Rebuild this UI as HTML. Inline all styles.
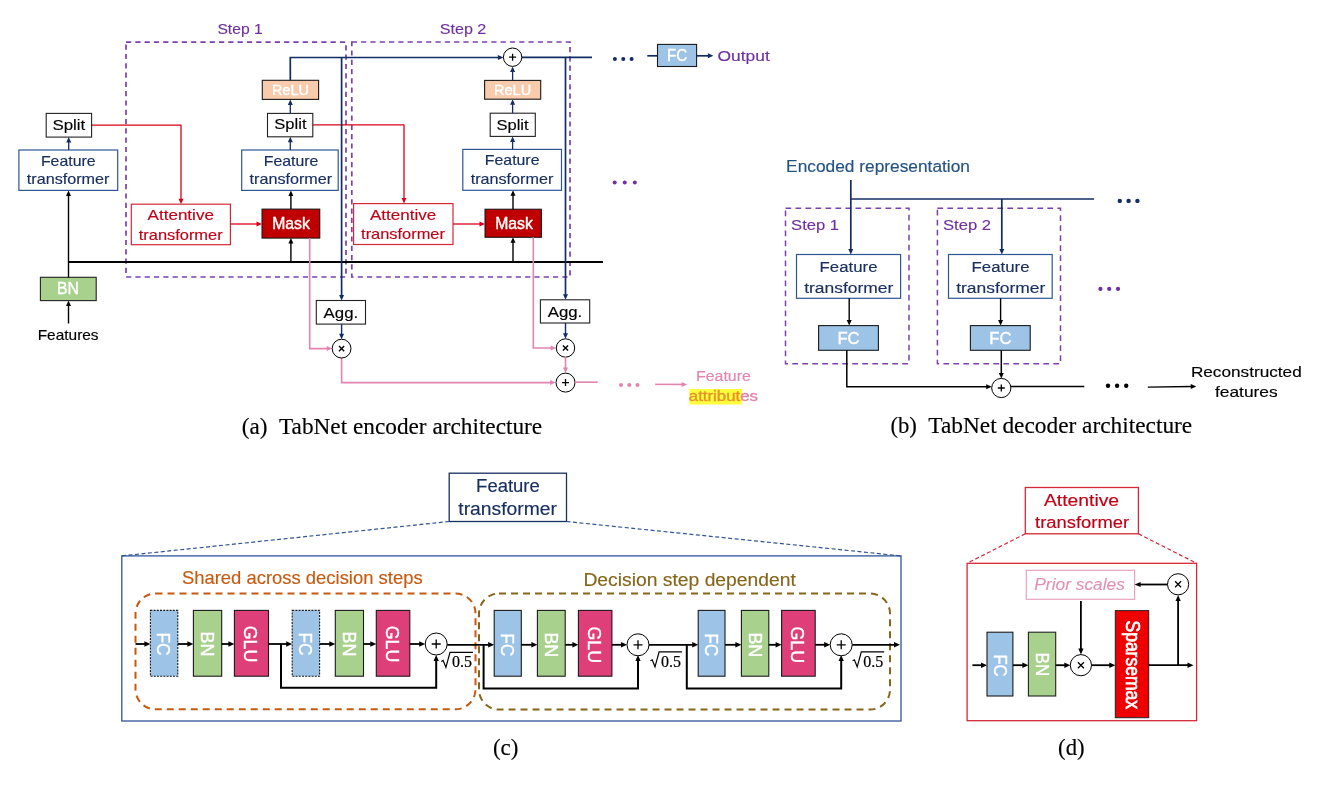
<!DOCTYPE html>
<html><head><meta charset="utf-8"><style>
html,body{margin:0;padding:0;background:#fff;}
svg{display:block;will-change:transform;}
</style></head><body>
<svg width="1334" height="785" viewBox="0 0 1334 785">
<rect width="1334" height="785" fill="#fff"/>
<rect x="126" y="42.1" width="220" height="234.9" fill="none" stroke="#7B40AE" stroke-width="1.7" stroke-dasharray="5.2,4.1"/>
<rect x="351.8" y="42" width="218.2" height="235" fill="none" stroke="#7B40AE" stroke-width="1.7" stroke-dasharray="5.2,4.1"/>
<text x="240.05" y="34.1" font-family='"Liberation Sans", sans-serif' font-size="15.5" fill="#7030A0" text-anchor="middle" textLength="45.3" lengthAdjust="spacingAndGlyphs" stroke="#7030A0" stroke-width="0.15" >Step 1</text>
<text x="463" y="34" font-family='"Liberation Sans", sans-serif' font-size="15.5" fill="#7030A0" text-anchor="middle" textLength="46.6" lengthAdjust="spacingAndGlyphs" stroke="#7030A0" stroke-width="0.15" >Step 2</text>
<polyline points="68.5,262 603,262" fill="none" stroke="#000000" stroke-width="1.8"/>
<text x="68.15" y="340.3" font-family='"Liberation Sans", sans-serif' font-size="14.5" fill="#000" text-anchor="middle" textLength="60.9" lengthAdjust="spacingAndGlyphs" stroke="#000" stroke-width="0.15" >Features</text>
<polyline points="68.5,323.5 68.5,305.1" fill="none" stroke="#000000" stroke-width="1.4"/>
<polygon points="68.5,300.6 71,306.1 66,306.1" fill="#000000"/>
<rect x="40.4" y="277.3" width="55.8" height="23.3" fill="#A9D18E" stroke="#222" stroke-width="1.1"/>
<text x="68.05" y="294" font-family='"Liberation Sans", sans-serif' font-size="17" fill="#fff" text-anchor="middle" textLength="21.9" lengthAdjust="spacingAndGlyphs" stroke="#fff" stroke-width="0.4" >BN</text>
<polyline points="68.5,277.3 68.5,194.9" fill="none" stroke="#000000" stroke-width="1.4"/>
<polygon points="68.5,190.4 71,195.9 66,195.9" fill="#000000"/>
<rect x="18.9" y="150" width="98.8" height="40.4" fill="#fff" stroke="#2F5597" stroke-width="1.2"/>
<text x="68.25" y="165.5" font-family='"Liberation Sans", sans-serif' font-size="14.5" fill="#182F60" text-anchor="middle" textLength="54.7" lengthAdjust="spacingAndGlyphs" stroke="#182F60" stroke-width="0.15" >Feature</text>
<text x="68.1" y="184.4" font-family='"Liberation Sans", sans-serif' font-size="14.5" fill="#182F60" text-anchor="middle" textLength="82.6" lengthAdjust="spacingAndGlyphs" stroke="#182F60" stroke-width="0.15" >transformer</text>
<polyline points="68.7,150 68.7,141.6" fill="none" stroke="#132C64" stroke-width="1.3"/>
<polygon points="68.7,137.1 71.2,142.6 66.2,142.6" fill="#132C64"/>
<rect x="46.2" y="113.4" width="45.4" height="23.7" fill="#fff" stroke="#222" stroke-width="1.1"/>
<text x="68.85" y="129.9" font-family='"Liberation Sans", sans-serif' font-size="15.5" fill="#000" text-anchor="middle" textLength="32.9" lengthAdjust="spacingAndGlyphs" stroke="#000" stroke-width="0.15" >Split</text>
<polyline points="91.6,125.2 181,125.2 181,199.7" fill="none" stroke="#D8001A" stroke-width="1.3"/>
<polygon points="181,204.2 178.5,198.7 183.5,198.7" fill="#D8001A"/>
<rect x="131.3" y="204.2" width="99.1" height="40.5" fill="#fff" stroke="#D42838" stroke-width="1.2"/>
<text x="180.75" y="219.7" font-family='"Liberation Sans", sans-serif' font-size="15" fill="#C00016" text-anchor="middle" textLength="66.3" lengthAdjust="spacingAndGlyphs" stroke="#C00016" stroke-width="0.15" >Attentive</text>
<text x="180.7" y="239.5" font-family='"Liberation Sans", sans-serif' font-size="15" fill="#C00016" text-anchor="middle" textLength="83.8" lengthAdjust="spacingAndGlyphs" stroke="#C00016" stroke-width="0.15" >transformer</text>
<polyline points="230.4,224 257.5,224" fill="none" stroke="#D8001A" stroke-width="1.3"/>
<polygon points="262,224 256.5,226.5 256.5,221.5" fill="#D8001A"/>
<rect x="262" y="209.1" width="57.8" height="29" fill="#C00000" stroke="#111" stroke-width="1"/>
<text x="291.05" y="229.1" font-family='"Liberation Sans", sans-serif' font-size="17" fill="#fff" text-anchor="middle" textLength="37.7" lengthAdjust="spacingAndGlyphs" stroke="#fff" stroke-width="0.4" >Mask</text>
<polyline points="290.9,262 290.9,242.6" fill="none" stroke="#000000" stroke-width="1.4"/>
<polygon points="290.9,238.1 293.4,243.6 288.4,243.6" fill="#000000"/>
<polyline points="290.9,209.1 290.9,194.9" fill="none" stroke="#000000" stroke-width="1.4"/>
<polygon points="290.9,190.4 293.4,195.9 288.4,195.9" fill="#000000"/>
<rect x="241.7" y="150" width="96.5" height="40.4" fill="#fff" stroke="#2F5597" stroke-width="1.2"/>
<text x="291.05" y="165.5" font-family='"Liberation Sans", sans-serif' font-size="14.5" fill="#182F60" text-anchor="middle" textLength="54.7" lengthAdjust="spacingAndGlyphs" stroke="#182F60" stroke-width="0.15" >Feature</text>
<text x="290.9" y="184.4" font-family='"Liberation Sans", sans-serif' font-size="14.5" fill="#182F60" text-anchor="middle" textLength="82.6" lengthAdjust="spacingAndGlyphs" stroke="#182F60" stroke-width="0.15" >transformer</text>
<polyline points="290.3,150 290.3,141.3" fill="none" stroke="#132C64" stroke-width="1.3"/>
<polygon points="290.3,136.8 292.8,142.3 287.8,142.3" fill="#132C64"/>
<rect x="267.5" y="113.4" width="45.3" height="23.4" fill="#fff" stroke="#222" stroke-width="1.1"/>
<text x="290.4" y="129.3" font-family='"Liberation Sans", sans-serif' font-size="15.5" fill="#000" text-anchor="middle" textLength="32.2" lengthAdjust="spacingAndGlyphs" stroke="#000" stroke-width="0.15" >Split</text>
<polyline points="290.3,113.4 290.3,103.9" fill="none" stroke="#132C64" stroke-width="1.3"/>
<polygon points="290.3,99.4 292.8,104.9 287.8,104.9" fill="#132C64"/>
<rect x="262.3" y="80.3" width="56.3" height="19.1" fill="#F8CBAD" stroke="#1a1a1a" stroke-width="1.1"/>
<text x="290.4" y="94.6" font-family='"Liberation Sans", sans-serif' font-size="15.5" fill="#fff" text-anchor="middle" textLength="37" lengthAdjust="spacingAndGlyphs" stroke="#fff" stroke-width="0.4" >ReLU</text>
<polyline points="290.3,80.3 290.3,57.5 498.9,57.5" fill="none" stroke="#132C64" stroke-width="1.7"/>
<polygon points="503.4,57.5 497.9,60 497.9,55" fill="#132C64"/>
<polyline points="312.8,124.8 404,124.8" fill="none" stroke="#D8001A" stroke-width="1.3"/>
<polyline points="404,124.8 404,199.1" fill="none" stroke="#D8001A" stroke-width="1.3"/>
<polygon points="404,203.6 401.5,198.1 406.5,198.1" fill="#D8001A"/>
<polyline points="341.6,57.5 341.6,296" fill="none" stroke="#132C64" stroke-width="1.7"/>
<polygon points="341.6,300.5 339.1,295 344.1,295" fill="#132C64"/>
<rect x="316.3" y="300.5" width="49.2" height="23.6" fill="#fff" stroke="#222" stroke-width="1.1"/>
<text x="340.9" y="317.7" font-family='"Liberation Sans", sans-serif' font-size="15" fill="#000" text-anchor="middle" textLength="34.6" lengthAdjust="spacingAndGlyphs" stroke="#000" stroke-width="0.15" >Agg.</text>
<polyline points="341.6,324.1 341.6,334.7" fill="none" stroke="#132C64" stroke-width="1.4"/>
<polygon points="341.6,339.2 339.1,333.7 344.1,333.7" fill="#132C64"/>
<polyline points="309.7,238.1 309.7,348.6 327.7,348.6" fill="none" stroke="#E384B0" stroke-width="1.6"/>
<polygon points="332.2,348.6 326.7,351.1 326.7,346.1" fill="#E384B0"/>
<polyline points="341.6,358 341.6,382.6 551.1,382.6" fill="none" stroke="#E384B0" stroke-width="1.6"/>
<polygon points="555.6,382.6 550.1,385.1 550.1,380.1" fill="#E384B0"/>
<circle cx="341.6" cy="348.6" r="9.4" fill="#fff" stroke="#000" stroke-width="1"/>
<path d="M339 346L344.2 351.2M344.2 346L339 351.2" stroke="#000" stroke-width="1.4"/>
<rect x="353.6" y="203.6" width="99.4" height="40.9" fill="#fff" stroke="#D42838" stroke-width="1.2"/>
<text x="403.05" y="219.5" font-family='"Liberation Sans", sans-serif' font-size="15" fill="#C00016" text-anchor="middle" textLength="66.3" lengthAdjust="spacingAndGlyphs" stroke="#C00016" stroke-width="0.15" >Attentive</text>
<text x="403" y="239.3" font-family='"Liberation Sans", sans-serif' font-size="15" fill="#C00016" text-anchor="middle" textLength="83.8" lengthAdjust="spacingAndGlyphs" stroke="#C00016" stroke-width="0.15" >transformer</text>
<polyline points="453,224 480.5,224" fill="none" stroke="#D8001A" stroke-width="1.3"/>
<polygon points="485,224 479.5,226.5 479.5,221.5" fill="#D8001A"/>
<rect x="485" y="209.2" width="56.4" height="28.1" fill="#C00000" stroke="#111" stroke-width="1"/>
<text x="514.05" y="228.8" font-family='"Liberation Sans", sans-serif' font-size="17" fill="#fff" text-anchor="middle" textLength="37.7" lengthAdjust="spacingAndGlyphs" stroke="#fff" stroke-width="0.4" >Mask</text>
<polyline points="513,262 513,241.8" fill="none" stroke="#000000" stroke-width="1.4"/>
<polygon points="513,237.3 515.5,242.8 510.5,242.8" fill="#000000"/>
<polyline points="513,209.2 513,194.8" fill="none" stroke="#000000" stroke-width="1.4"/>
<polygon points="513,190.3 515.5,195.8 510.5,195.8" fill="#000000"/>
<rect x="462.8" y="149.4" width="98.7" height="40.9" fill="#fff" stroke="#2F5597" stroke-width="1.2"/>
<text x="512.15" y="165.2" font-family='"Liberation Sans", sans-serif' font-size="14.5" fill="#182F60" text-anchor="middle" textLength="54.7" lengthAdjust="spacingAndGlyphs" stroke="#182F60" stroke-width="0.15" >Feature</text>
<text x="512" y="184.1" font-family='"Liberation Sans", sans-serif' font-size="14.5" fill="#182F60" text-anchor="middle" textLength="82.6" lengthAdjust="spacingAndGlyphs" stroke="#182F60" stroke-width="0.15" >transformer</text>
<polyline points="512.6,149.4 512.6,140.9" fill="none" stroke="#132C64" stroke-width="1.3"/>
<polygon points="512.6,136.4 515.1,141.9 510.1,141.9" fill="#132C64"/>
<rect x="490.2" y="113.2" width="45.1" height="23.2" fill="#fff" stroke="#222" stroke-width="1.1"/>
<text x="512.55" y="129.8" font-family='"Liberation Sans", sans-serif' font-size="15.5" fill="#000" text-anchor="middle" textLength="32.1" lengthAdjust="spacingAndGlyphs" stroke="#000" stroke-width="0.15" >Split</text>
<polyline points="512.6,113.2 512.6,103.7" fill="none" stroke="#132C64" stroke-width="1.3"/>
<polygon points="512.6,99.2 515.1,104.7 510.1,104.7" fill="#132C64"/>
<rect x="484.6" y="80.4" width="56.1" height="18.8" fill="#F8CBAD" stroke="#1a1a1a" stroke-width="1.1"/>
<text x="512.6" y="94.5" font-family='"Liberation Sans", sans-serif' font-size="15.5" fill="#fff" text-anchor="middle" textLength="37.2" lengthAdjust="spacingAndGlyphs" stroke="#fff" stroke-width="0.4" >ReLU</text>
<polyline points="512.6,80.4 512.6,70.9" fill="none" stroke="#132C64" stroke-width="1.3"/>
<polygon points="512.6,66.4 515.1,71.9 510.1,71.9" fill="#132C64"/>
<polyline points="521.8,57.4 592,57.4" fill="none" stroke="#132C64" stroke-width="1.7"/>
<polyline points="565.5,57.4 565.5,295.3" fill="none" stroke="#132C64" stroke-width="1.7"/>
<polygon points="565.5,299.8 563,294.3 568,294.3" fill="#132C64"/>
<circle cx="512.6" cy="57.2" r="9.2" fill="#fff" stroke="#000" stroke-width="1"/>
<path d="M509.1 57.2H516.1M512.6 53.7V60.7" stroke="#000" stroke-width="1.3"/>
<rect x="540.4" y="299.8" width="49.3" height="23.2" fill="#fff" stroke="#222" stroke-width="1.1"/>
<text x="565" y="317" font-family='"Liberation Sans", sans-serif' font-size="15" fill="#000" text-anchor="middle" textLength="34.6" lengthAdjust="spacingAndGlyphs" stroke="#000" stroke-width="0.15" >Agg.</text>
<polyline points="565.5,323 565.5,334.3" fill="none" stroke="#132C64" stroke-width="1.4"/>
<polygon points="565.5,338.8 563,333.3 568,333.3" fill="#132C64"/>
<polyline points="533.3,237.3 533.3,348 551.7,348" fill="none" stroke="#E384B0" stroke-width="1.6"/>
<polygon points="556.2,348 550.7,350.5 550.7,345.5" fill="#E384B0"/>
<circle cx="565.5" cy="348" r="9.2" fill="#fff" stroke="#000" stroke-width="1"/>
<path d="M562.9 345.4L568.1 350.6M568.1 345.4L562.9 350.6" stroke="#000" stroke-width="1.4"/>
<polyline points="565.5,357.2 565.5,368.5" fill="none" stroke="#E384B0" stroke-width="1.6"/>
<polygon points="565.5,373 563,367.5 568,367.5" fill="#E384B0"/>
<circle cx="565.5" cy="382.6" r="9.5" fill="#fff" stroke="#000" stroke-width="1"/>
<path d="M562 382.6H569M565.5 379.1V386.1" stroke="#000" stroke-width="1.3"/>
<polyline points="575,382.2 597.7,382.2" fill="none" stroke="#E384B0" stroke-width="1.6"/>
<circle cx="621" cy="385" r="2" fill="#E384B0"/>
<circle cx="629.25" cy="385" r="2" fill="#E384B0"/>
<circle cx="637.5" cy="385" r="2" fill="#E384B0"/>
<polyline points="655.2,384.4 682.7,384.4" fill="none" stroke="#E384B0" stroke-width="1.6"/>
<polygon points="687.2,384.4 681.7,386.9 681.7,381.9" fill="#E384B0"/>
<rect x="689.2" y="389" width="52.9" height="15.5" fill="#FFFF3C" stroke="none" stroke-width="0"/>
<text x="723.4" y="380.9" font-family='"Liberation Sans", sans-serif' font-size="15.5" fill="#E384B0" text-anchor="middle" textLength="54.8" lengthAdjust="spacingAndGlyphs" stroke="#E384B0" stroke-width="0.15" >Feature</text>
<text x="723.35" y="400.5" font-family='"Liberation Sans", sans-serif' font-size="15.5" text-anchor="middle" textLength="69.1" lengthAdjust="spacingAndGlyphs" stroke-width="0.35"><tspan fill="#E8902E" stroke="#E8902E">attribut</tspan><tspan fill="#E384B0" stroke="#E384B0">es</tspan></text>
<circle cx="614.9" cy="58.9" r="2" fill="#132C64"/>
<circle cx="623.25" cy="58.9" r="2" fill="#132C64"/>
<circle cx="631.6" cy="58.9" r="2" fill="#132C64"/>
<polyline points="647.3,55.8 657.5,55.8" fill="none" stroke="#132C64" stroke-width="1.7"/>
<rect x="657.5" y="44.4" width="39.1" height="22.1" fill="#9DC3E6" stroke="#1a1a1a" stroke-width="1.1"/>
<text x="677.1" y="60.6" font-family='"Liberation Sans", sans-serif' font-size="17" fill="#fff" text-anchor="middle" textLength="20.2" lengthAdjust="spacingAndGlyphs" stroke="#fff" stroke-width="0.4" >FC</text>
<polyline points="696.6,55.8 708.9,55.8" fill="none" stroke="#132C64" stroke-width="1.7"/>
<polygon points="713.4,55.8 707.9,58.3 707.9,53.3" fill="#132C64"/>
<text x="743.7" y="60.6" font-family='"Liberation Sans", sans-serif' font-size="15" fill="#7030A0" text-anchor="middle" textLength="52.2" lengthAdjust="spacingAndGlyphs" stroke="#7030A0" stroke-width="0.15" >Output</text>
<circle cx="614.7" cy="182.5" r="2" fill="#7030A0"/>
<circle cx="624.75" cy="182.5" r="2" fill="#7030A0"/>
<circle cx="634.8" cy="182.5" r="2" fill="#7030A0"/>
<text x="254.55" y="433.7" font-family='"Liberation Serif", serif' font-size="23" fill="#000000" text-anchor="middle" textLength="25.7" lengthAdjust="spacingAndGlyphs" stroke="#000000" stroke-width="0.15" >(a)</text>
<text x="410.6" y="433.7" font-family='"Liberation Serif", serif' font-size="23" fill="#000000" text-anchor="middle" textLength="263.2" lengthAdjust="spacingAndGlyphs" stroke="#000000" stroke-width="0.15" >TabNet encoder architecture</text>
<text x="878.05" y="172" font-family='"Liberation Sans", sans-serif' font-size="16" fill="#245383" text-anchor="middle" textLength="183.9" lengthAdjust="spacingAndGlyphs" stroke="#245383" stroke-width="0.15" >Encoded representation</text>
<polyline points="850.8,180 850.8,199" fill="none" stroke="#132C64" stroke-width="1.7"/>
<polyline points="850.8,199 1094,199" fill="none" stroke="#132C64" stroke-width="1.7"/>
<circle cx="1119.8" cy="200.9" r="2.2" fill="#132C64"/>
<circle cx="1128.6" cy="200.9" r="2.2" fill="#132C64"/>
<circle cx="1137.4" cy="200.9" r="2.2" fill="#132C64"/>
<rect x="785.5" y="208.3" width="123.5" height="155.5" fill="none" stroke="#7B40AE" stroke-width="1.5" stroke-dasharray="5.7,4.3"/>
<rect x="937.4" y="208.3" width="123.1" height="155.5" fill="none" stroke="#7B40AE" stroke-width="1.5" stroke-dasharray="5.7,4.3"/>
<text x="815.1" y="229.5" font-family='"Liberation Sans", sans-serif' font-size="15.5" fill="#7030A0" text-anchor="middle" textLength="48" lengthAdjust="spacingAndGlyphs" stroke="#7030A0" stroke-width="0.15" >Step 1</text>
<text x="967" y="229.5" font-family='"Liberation Sans", sans-serif' font-size="15.5" fill="#7030A0" text-anchor="middle" textLength="48" lengthAdjust="spacingAndGlyphs" stroke="#7030A0" stroke-width="0.15" >Step 2</text>
<polyline points="850.8,199 850.8,250" fill="none" stroke="#132C64" stroke-width="1.7"/>
<polygon points="850.8,254.5 848.3,249 853.3,249" fill="#132C64"/>
<polyline points="1001.8,199 1001.8,250" fill="none" stroke="#132C64" stroke-width="1.7"/>
<polygon points="1001.8,254.5 999.3,249 1004.3,249" fill="#132C64"/>
<rect x="796.5" y="254.5" width="104.1" height="43.8" fill="#fff" stroke="#2F5597" stroke-width="1.2"/>
<text x="848.55" y="272.1" font-family='"Liberation Sans", sans-serif' font-size="15.5" fill="#182F60" text-anchor="middle" textLength="57.9" lengthAdjust="spacingAndGlyphs" stroke="#182F60" stroke-width="0.15" >Feature</text>
<text x="848.75" y="292.8" font-family='"Liberation Sans", sans-serif' font-size="15.5" fill="#182F60" text-anchor="middle" textLength="89.1" lengthAdjust="spacingAndGlyphs" stroke="#182F60" stroke-width="0.15" >transformer</text>
<rect x="948.5" y="254.5" width="103.7" height="43.8" fill="#fff" stroke="#2F5597" stroke-width="1.2"/>
<text x="1000.55" y="272.1" font-family='"Liberation Sans", sans-serif' font-size="15.5" fill="#182F60" text-anchor="middle" textLength="57.9" lengthAdjust="spacingAndGlyphs" stroke="#182F60" stroke-width="0.15" >Feature</text>
<text x="1000.75" y="292.8" font-family='"Liberation Sans", sans-serif' font-size="15.5" fill="#182F60" text-anchor="middle" textLength="89.1" lengthAdjust="spacingAndGlyphs" stroke="#182F60" stroke-width="0.15" >transformer</text>
<polyline points="849.2,298.3 849.2,321.1" fill="none" stroke="#000000" stroke-width="1.4"/>
<polygon points="849.2,325.6 846.7,320.1 851.7,320.1" fill="#000000"/>
<polyline points="1000.6,298.3 1000.6,321.1" fill="none" stroke="#000000" stroke-width="1.4"/>
<polygon points="1000.6,325.6 998.1,320.1 1003.1,320.1" fill="#000000"/>
<rect x="818.6" y="325.6" width="59.8" height="24.7" fill="#9DC3E6" stroke="#1a1a1a" stroke-width="1.1"/>
<text x="848.55" y="343.8" font-family='"Liberation Sans", sans-serif' font-size="17" fill="#fff" text-anchor="middle" textLength="22.3" lengthAdjust="spacingAndGlyphs" stroke="#fff" stroke-width="0.4" >FC</text>
<rect x="970.4" y="325.6" width="59.8" height="24.7" fill="#9DC3E6" stroke="#1a1a1a" stroke-width="1.1"/>
<text x="1000.45" y="343.8" font-family='"Liberation Sans", sans-serif' font-size="17" fill="#fff" text-anchor="middle" textLength="22.3" lengthAdjust="spacingAndGlyphs" stroke="#fff" stroke-width="0.4" >FC</text>
<polyline points="846.8,350.3 846.8,386.8 987.2,386.8" fill="none" stroke="#000000" stroke-width="1.5"/>
<polygon points="991.7,386.8 986.2,389.3 986.2,384.3" fill="#000000"/>
<polyline points="1001.3,350.3 1001.3,373.9" fill="none" stroke="#000000" stroke-width="1.5"/>
<polygon points="1001.3,378.4 998.8,372.9 1003.8,372.9" fill="#000000"/>
<circle cx="1001.3" cy="388" r="9.6" fill="#fff" stroke="#000" stroke-width="1"/>
<path d="M997.8 388H1004.8M1001.3 384.5V391.5" stroke="#000" stroke-width="1.3"/>
<polyline points="1010.9,386.6 1084.3,386.4" fill="none" stroke="#000000" stroke-width="1.5"/>
<circle cx="1108" cy="385.7" r="2.2" fill="#000000"/>
<circle cx="1117.1" cy="385.7" r="2.2" fill="#000000"/>
<circle cx="1126.2" cy="385.7" r="2.2" fill="#000000"/>
<polyline points="1147.8,387.1 1191.8,386.46" fill="none" stroke="#000000" stroke-width="1.4"/>
<polygon points="1196.3,386.4 1190.84,388.98 1190.76,383.98" fill="#000000"/>
<text x="1246.3" y="376.8" font-family='"Liberation Sans", sans-serif' font-size="15" fill="#000" text-anchor="middle" textLength="110.8" lengthAdjust="spacingAndGlyphs" stroke="#000" stroke-width="0.15" >Reconstructed</text>
<text x="1246.3" y="397.2" font-family='"Liberation Sans", sans-serif' font-size="15" fill="#000" text-anchor="middle" textLength="62.8" lengthAdjust="spacingAndGlyphs" stroke="#000" stroke-width="0.15" >features</text>
<circle cx="1100.4" cy="288.9" r="2.1" fill="#7030A0"/>
<circle cx="1109.2" cy="288.9" r="2.1" fill="#7030A0"/>
<circle cx="1118" cy="288.9" r="2.1" fill="#7030A0"/>
<text x="903.65" y="433" font-family='"Liberation Serif", serif' font-size="23" fill="#000000" text-anchor="middle" textLength="26.5" lengthAdjust="spacingAndGlyphs" stroke="#000000" stroke-width="0.15" >(b)</text>
<text x="1060.25" y="433" font-family='"Liberation Serif", serif' font-size="23" fill="#000000" text-anchor="middle" textLength="263.9" lengthAdjust="spacingAndGlyphs" stroke="#000000" stroke-width="0.15" >TabNet decoder architecture</text>
<rect x="449.2" y="473.2" width="117.3" height="48.3" fill="#fff" stroke="#182F60" stroke-width="1.3"/>
<text x="507.95" y="491.8" font-family='"Liberation Sans", sans-serif' font-size="17.5" fill="#182F60" text-anchor="middle" textLength="63.7" lengthAdjust="spacingAndGlyphs" stroke="#182F60" stroke-width="0.15" >Feature</text>
<text x="507.6" y="514.5" font-family='"Liberation Sans", sans-serif' font-size="17.5" fill="#182F60" text-anchor="middle" textLength="98.6" lengthAdjust="spacingAndGlyphs" stroke="#182F60" stroke-width="0.15" >transformer</text>
<polyline points="449.2,521.5 121.8,555.9" fill="none" stroke="#2F5597" stroke-width="1.2" stroke-dasharray="4,2.5"/>
<polyline points="566.5,521.5 901,555.9" fill="none" stroke="#2F5597" stroke-width="1.2" stroke-dasharray="4,2.5"/>
<rect x="121.8" y="555.9" width="779.2" height="165.1" fill="none" stroke="#2F5597" stroke-width="1.3"/>
<text x="302.25" y="583.9" font-family='"Liberation Sans", sans-serif' font-size="18.5" fill="#C55A11" text-anchor="middle" textLength="240.7" lengthAdjust="spacingAndGlyphs" stroke="#C55A11" stroke-width="0.15" >Shared across decision steps</text>
<text x="689.65" y="586.1" font-family='"Liberation Sans", sans-serif' font-size="18" fill="#86651A" text-anchor="middle" textLength="212.5" lengthAdjust="spacingAndGlyphs" stroke="#86651A" stroke-width="0.15" >Decision step dependent</text>
<rect x="135.5" y="593.5" width="340" height="115.8" fill="none" stroke="#C55A11" stroke-width="2" stroke-dasharray="7,5" rx="20"/>
<rect x="479" y="593.5" width="411" height="116.1" fill="none" stroke="#86651A" stroke-width="2" stroke-dasharray="7,5" rx="20"/>
<polyline points="135.5,644 145.4,644" fill="none" stroke="#000000" stroke-width="1.8"/>
<polygon points="150.4,644 144.4,646.8 144.4,641.2" fill="#000000"/>
<rect x="150.4" y="610.4" width="27.4" height="65.8" fill="#9DC3E6" stroke="#1a1a1a" stroke-width="1.1" stroke-dasharray="2,1.2"/>
<text transform="translate(157.1,644) rotate(90)" x="0" y="0" font-family='"Liberation Sans", sans-serif' font-size="18.5" fill="#fff" stroke="#fff" stroke-width="0.4" text-anchor="middle" textLength="23.1" lengthAdjust="spacingAndGlyphs" >FC</text>
<polyline points="177.8,644 188.4,644" fill="none" stroke="#000000" stroke-width="1.8"/>
<polygon points="193.4,644 187.4,646.8 187.4,641.2" fill="#000000"/>
<rect x="193.4" y="610.4" width="28.3" height="65.8" fill="#A9D18E" stroke="#1a1a1a" stroke-width="1.1"/>
<text transform="translate(201.05,644) rotate(90)" x="0" y="0" font-family='"Liberation Sans", sans-serif' font-size="18.5" fill="#fff" stroke="#fff" stroke-width="0.4" text-anchor="middle" textLength="24.8" lengthAdjust="spacingAndGlyphs" >BN</text>
<polyline points="221.7,644 229.4,644" fill="none" stroke="#000000" stroke-width="1.8"/>
<polygon points="234.4,644 228.4,646.8 228.4,641.2" fill="#000000"/>
<rect x="234.4" y="610.4" width="34.1" height="65.8" fill="#DE3F78" stroke="#1a1a1a" stroke-width="1.1"/>
<text transform="translate(244.45,644) rotate(90)" x="0" y="0" font-family='"Liberation Sans", sans-serif' font-size="18.5" fill="#fff" stroke="#fff" stroke-width="0.4" text-anchor="middle" textLength="36.6" lengthAdjust="spacingAndGlyphs" >GLU</text>
<polyline points="268.5,644 287.2,644" fill="none" stroke="#000000" stroke-width="1.8"/>
<polygon points="292.2,644 286.2,646.8 286.2,641.2" fill="#000000"/>
<rect x="292.2" y="610.4" width="27.4" height="65.8" fill="#9DC3E6" stroke="#1a1a1a" stroke-width="1.1" stroke-dasharray="2,1.2"/>
<text transform="translate(298.9,644) rotate(90)" x="0" y="0" font-family='"Liberation Sans", sans-serif' font-size="18.5" fill="#fff" stroke="#fff" stroke-width="0.4" text-anchor="middle" textLength="23.1" lengthAdjust="spacingAndGlyphs" >FC</text>
<polyline points="319.6,644 330.3,644" fill="none" stroke="#000000" stroke-width="1.8"/>
<polygon points="335.3,644 329.3,646.8 329.3,641.2" fill="#000000"/>
<rect x="335.3" y="610.4" width="28.2" height="65.8" fill="#A9D18E" stroke="#1a1a1a" stroke-width="1.1"/>
<text transform="translate(342.9,644) rotate(90)" x="0" y="0" font-family='"Liberation Sans", sans-serif' font-size="18.5" fill="#fff" stroke="#fff" stroke-width="0.4" text-anchor="middle" textLength="24.8" lengthAdjust="spacingAndGlyphs" >BN</text>
<polyline points="363.5,644 371.3,644" fill="none" stroke="#000000" stroke-width="1.8"/>
<polygon points="376.3,644 370.3,646.8 370.3,641.2" fill="#000000"/>
<rect x="376.3" y="610.4" width="33.5" height="65.8" fill="#DE3F78" stroke="#1a1a1a" stroke-width="1.1"/>
<text transform="translate(386.05,644) rotate(90)" x="0" y="0" font-family='"Liberation Sans", sans-serif' font-size="18.5" fill="#fff" stroke="#fff" stroke-width="0.4" text-anchor="middle" textLength="36.6" lengthAdjust="spacingAndGlyphs" >GLU</text>
<polyline points="409.8,644 420.2,644" fill="none" stroke="#000000" stroke-width="1.8"/>
<polygon points="425.2,644 419.2,646.8 419.2,641.2" fill="#000000"/>
<polyline points="281,644 281,687.8 436.2,687.8 436.2,660" fill="none" stroke="#000000" stroke-width="2"/>
<polygon points="436.2,655 438.8,661 433.6,661" fill="#000000"/>
<circle cx="436.2" cy="644" r="11" fill="#fff" stroke="#000" stroke-width="1"/>
<path d="M431.7 644H440.7M436.2 639.5V648.5" stroke="#000" stroke-width="1.3"/>
<path d="M441.3 661.4L443.1 660.4L445.9 667.4L450 652.4H472.9" fill="none" stroke="#000" stroke-width="1.2"/>
<text x="452" y="667.4" font-family='"Liberation Serif", serif' font-size="16" fill="#000000" text-anchor="start" textLength="20" lengthAdjust="spacingAndGlyphs" stroke="#000000" stroke-width="0.2" >0.5</text>
<polyline points="447.2,644.8 489.2,644.8" fill="none" stroke="#000000" stroke-width="1.8"/>
<polygon points="494.2,644.8 488.2,647.6 488.2,642" fill="#000000"/>
<rect x="494.2" y="610.4" width="27.1" height="65.8" fill="#9DC3E6" stroke="#1a1a1a" stroke-width="1.1"/>
<text transform="translate(500.75,644.8) rotate(90)" x="0" y="0" font-family='"Liberation Sans", sans-serif' font-size="18.5" fill="#fff" stroke="#fff" stroke-width="0.4" text-anchor="middle" textLength="23.1" lengthAdjust="spacingAndGlyphs" >FC</text>
<polyline points="521.3,644.8 532.4,644.8" fill="none" stroke="#000000" stroke-width="1.8"/>
<polygon points="537.4,644.8 531.4,647.6 531.4,642" fill="#000000"/>
<rect x="537.4" y="610.4" width="27.8" height="65.8" fill="#A9D18E" stroke="#1a1a1a" stroke-width="1.1"/>
<text transform="translate(544.8,644.8) rotate(90)" x="0" y="0" font-family='"Liberation Sans", sans-serif' font-size="18.5" fill="#fff" stroke="#fff" stroke-width="0.4" text-anchor="middle" textLength="24.8" lengthAdjust="spacingAndGlyphs" >BN</text>
<polyline points="565.2,644.8 573.4,644.8" fill="none" stroke="#000000" stroke-width="1.8"/>
<polygon points="578.4,644.8 572.4,647.6 572.4,642" fill="#000000"/>
<rect x="578.4" y="610.4" width="33.5" height="65.8" fill="#DE3F78" stroke="#1a1a1a" stroke-width="1.1"/>
<text transform="translate(588.15,644.8) rotate(90)" x="0" y="0" font-family='"Liberation Sans", sans-serif' font-size="18.5" fill="#fff" stroke="#fff" stroke-width="0.4" text-anchor="middle" textLength="36.6" lengthAdjust="spacingAndGlyphs" >GLU</text>
<polyline points="611.9,644.8 622,644.8" fill="none" stroke="#000000" stroke-width="1.8"/>
<polygon points="627,644.8 621,647.6 621,642" fill="#000000"/>
<polyline points="483.6,644.8 483.6,688.5 638,688.5 638,660" fill="none" stroke="#000000" stroke-width="2"/>
<polygon points="638,655 640.6,661 635.4,661" fill="#000000"/>
<circle cx="638" cy="644.8" r="11" fill="#fff" stroke="#000" stroke-width="1"/>
<path d="M633.5 644.8H642.5M638 640.3V649.3" stroke="#000" stroke-width="1.3"/>
<path d="M650.4 660.8L652.2 659.8L655 666.8L659.1 651.8H682" fill="none" stroke="#000" stroke-width="1.2"/>
<text x="661.1" y="666.8" font-family='"Liberation Serif", serif' font-size="16" fill="#000000" text-anchor="start" textLength="20" lengthAdjust="spacingAndGlyphs" stroke="#000000" stroke-width="0.2" >0.5</text>
<polyline points="649,644.8 693.2,644.8" fill="none" stroke="#000000" stroke-width="1.8"/>
<polygon points="698.2,644.8 692.2,647.6 692.2,642" fill="#000000"/>
<rect x="698.2" y="610.4" width="26.8" height="65.8" fill="#9DC3E6" stroke="#1a1a1a" stroke-width="1.1"/>
<text transform="translate(704.6,644.8) rotate(90)" x="0" y="0" font-family='"Liberation Sans", sans-serif' font-size="18.5" fill="#fff" stroke="#fff" stroke-width="0.4" text-anchor="middle" textLength="23.1" lengthAdjust="spacingAndGlyphs" >FC</text>
<polyline points="725,644.8 736.4,644.8" fill="none" stroke="#000000" stroke-width="1.8"/>
<polygon points="741.4,644.8 735.4,647.6 735.4,642" fill="#000000"/>
<rect x="741.4" y="610.4" width="27.4" height="65.8" fill="#A9D18E" stroke="#1a1a1a" stroke-width="1.1"/>
<text transform="translate(748.6,644.8) rotate(90)" x="0" y="0" font-family='"Liberation Sans", sans-serif' font-size="18.5" fill="#fff" stroke="#fff" stroke-width="0.4" text-anchor="middle" textLength="24.8" lengthAdjust="spacingAndGlyphs" >BN</text>
<polyline points="768.8,644.8 776.6,644.8" fill="none" stroke="#000000" stroke-width="1.8"/>
<polygon points="781.6,644.8 775.6,647.6 775.6,642" fill="#000000"/>
<rect x="781.6" y="610.4" width="33.6" height="65.8" fill="#DE3F78" stroke="#1a1a1a" stroke-width="1.1"/>
<text transform="translate(791.4,644.8) rotate(90)" x="0" y="0" font-family='"Liberation Sans", sans-serif' font-size="18.5" fill="#fff" stroke="#fff" stroke-width="0.4" text-anchor="middle" textLength="36.6" lengthAdjust="spacingAndGlyphs" >GLU</text>
<polyline points="815.2,644.8 825.2,644.8" fill="none" stroke="#000000" stroke-width="1.8"/>
<polygon points="830.2,644.8 824.2,647.6 824.2,642" fill="#000000"/>
<polyline points="686.8,644.8 686.8,688.5 841.2,688.5 841.2,660" fill="none" stroke="#000000" stroke-width="2"/>
<polygon points="841.2,655 843.8,661 838.6,661" fill="#000000"/>
<circle cx="841.2" cy="644.8" r="11" fill="#fff" stroke="#000" stroke-width="1"/>
<path d="M836.7 644.8H845.7M841.2 640.3V649.3" stroke="#000" stroke-width="1.3"/>
<path d="M852.6 660.8L854.4 659.8L857.2 666.8L861.3 651.8H884.2" fill="none" stroke="#000" stroke-width="1.2"/>
<text x="863.3" y="666.8" font-family='"Liberation Serif", serif' font-size="16" fill="#000000" text-anchor="start" textLength="20" lengthAdjust="spacingAndGlyphs" stroke="#000000" stroke-width="0.2" >0.5</text>
<polyline points="852.2,644.8 895,644.8" fill="none" stroke="#000000" stroke-width="1.8"/>
<polygon points="900,644.8 894,647.6 894,642" fill="#000000"/>
<text x="505.65" y="755.1" font-family='"Liberation Serif", serif' font-size="23" fill="#000000" text-anchor="middle" textLength="25.5" lengthAdjust="spacingAndGlyphs" stroke="#000000" stroke-width="0.15" >(c)</text>
<rect x="1025.3" y="487.5" width="113.1" height="46.3" fill="#fff" stroke="#D42838" stroke-width="1.3"/>
<text x="1081.5" y="505.7" font-family='"Liberation Sans", sans-serif' font-size="16" fill="#C00016" text-anchor="middle" textLength="75.2" lengthAdjust="spacingAndGlyphs" stroke="#C00016" stroke-width="0.15" >Attentive</text>
<text x="1082.1" y="528" font-family='"Liberation Sans", sans-serif' font-size="16" fill="#C00016" text-anchor="middle" textLength="94" lengthAdjust="spacingAndGlyphs" stroke="#C00016" stroke-width="0.15" >transformer</text>
<polyline points="1025.3,533.8 967.1,563.3" fill="none" stroke="#D42838" stroke-width="1.2" stroke-dasharray="4,2.5"/>
<polyline points="1138.4,533.8 1196.6,563.3" fill="none" stroke="#D42838" stroke-width="1.2" stroke-dasharray="4,2.5"/>
<rect x="967.1" y="563.3" width="229.5" height="157.4" fill="none" stroke="#D42838" stroke-width="1.3"/>
<rect x="1026.3" y="570.3" width="108.3" height="29" fill="#fff" stroke="#E8A3BF" stroke-width="1.2"/>
<text x="1079.6" y="589.7" font-family='"Liberation Sans", sans-serif' font-size="17" fill="#E092B6" text-anchor="middle" textLength="90.6" lengthAdjust="spacingAndGlyphs" stroke="#E092B6" stroke-width="0.1" font-style="italic">Prior scales</text>
<polyline points="972.4,665.2 982,665.2" fill="none" stroke="#000000" stroke-width="1.8"/>
<polygon points="987,665.2 981,668 981,662.4" fill="#000000"/>
<rect x="987" y="632.2" width="25.9" height="63.8" fill="#9DC3E6" stroke="#1a1a1a" stroke-width="1.1"/>
<text transform="translate(994,665.55) rotate(90)" x="0" y="0" font-family='"Liberation Sans", sans-serif' font-size="18.5" fill="#fff" stroke="#fff" stroke-width="0.4" text-anchor="middle" textLength="22.3" lengthAdjust="spacingAndGlyphs" >FC</text>
<polyline points="1012.9,665.2 1023.4,665.2" fill="none" stroke="#000000" stroke-width="1.8"/>
<polygon points="1028.4,665.2 1022.4,668 1022.4,662.4" fill="#000000"/>
<rect x="1028.4" y="632.2" width="27.3" height="63.8" fill="#A9D18E" stroke="#222" stroke-width="1.1"/>
<text transform="translate(1035.8,664.45) rotate(90)" x="0" y="0" font-family='"Liberation Sans", sans-serif' font-size="18.5" fill="#fff" stroke="#fff" stroke-width="0.4" text-anchor="middle" textLength="23.7" lengthAdjust="spacingAndGlyphs" >BN</text>
<polyline points="1055.7,665.2 1065.3,665.2" fill="none" stroke="#000000" stroke-width="1.8"/>
<polygon points="1070.3,665.2 1064.3,668 1064.3,662.4" fill="#000000"/>
<circle cx="1080.9" cy="665.2" r="10.6" fill="#fff" stroke="#000" stroke-width="1"/>
<path d="M1077.9 662.2L1083.9 668.2M1083.9 662.2L1077.9 668.2" stroke="#000" stroke-width="1.3"/>
<polyline points="1080.9,601 1080.9,649.6" fill="none" stroke="#000000" stroke-width="1.8"/>
<polygon points="1080.9,654.6 1078.3,648.6 1083.5,648.6" fill="#000000"/>
<polyline points="1091.5,665.2 1110.3,665.2" fill="none" stroke="#000000" stroke-width="1.8"/>
<polygon points="1115.3,665.2 1109.3,668 1109.3,662.4" fill="#000000"/>
<rect x="1115.3" y="610.6" width="33.4" height="107.1" fill="#EE0000" stroke="#222" stroke-width="1"/>
<text transform="translate(1125.6,664.7) rotate(90)" x="0" y="0" font-family='"Liberation Sans", sans-serif' font-size="19.5" fill="#fff" stroke="#fff" stroke-width="0.7" text-anchor="middle" textLength="88.4" lengthAdjust="spacingAndGlyphs" >Sparsemax</text>
<polyline points="1148.7,665.2 1188.5,665.2" fill="none" stroke="#000000" stroke-width="1.8"/>
<polygon points="1193.5,665.2 1187.5,668 1187.5,662.4" fill="#000000"/>
<polyline points="1178.1,665.2 1178.1,599.9" fill="none" stroke="#000000" stroke-width="1.8"/>
<polygon points="1178.1,594.9 1180.7,600.9 1175.5,600.9" fill="#000000"/>
<circle cx="1178.1" cy="584.3" r="10.6" fill="#fff" stroke="#000" stroke-width="1"/>
<path d="M1175.1 581.3L1181.1 587.3M1181.1 581.3L1175.1 587.3" stroke="#000" stroke-width="1.3"/>
<polyline points="1167.5,584.5 1139.6,584.5" fill="none" stroke="#000000" stroke-width="1.8"/>
<polygon points="1134.6,584.5 1140.6,581.9 1140.6,587.1" fill="#000000"/>
<text x="1071.35" y="754.8" font-family='"Liberation Serif", serif' font-size="23" fill="#000000" text-anchor="middle" textLength="26.5" lengthAdjust="spacingAndGlyphs" stroke="#000000" stroke-width="0.15" >(d)</text>
</svg>
</body></html>
